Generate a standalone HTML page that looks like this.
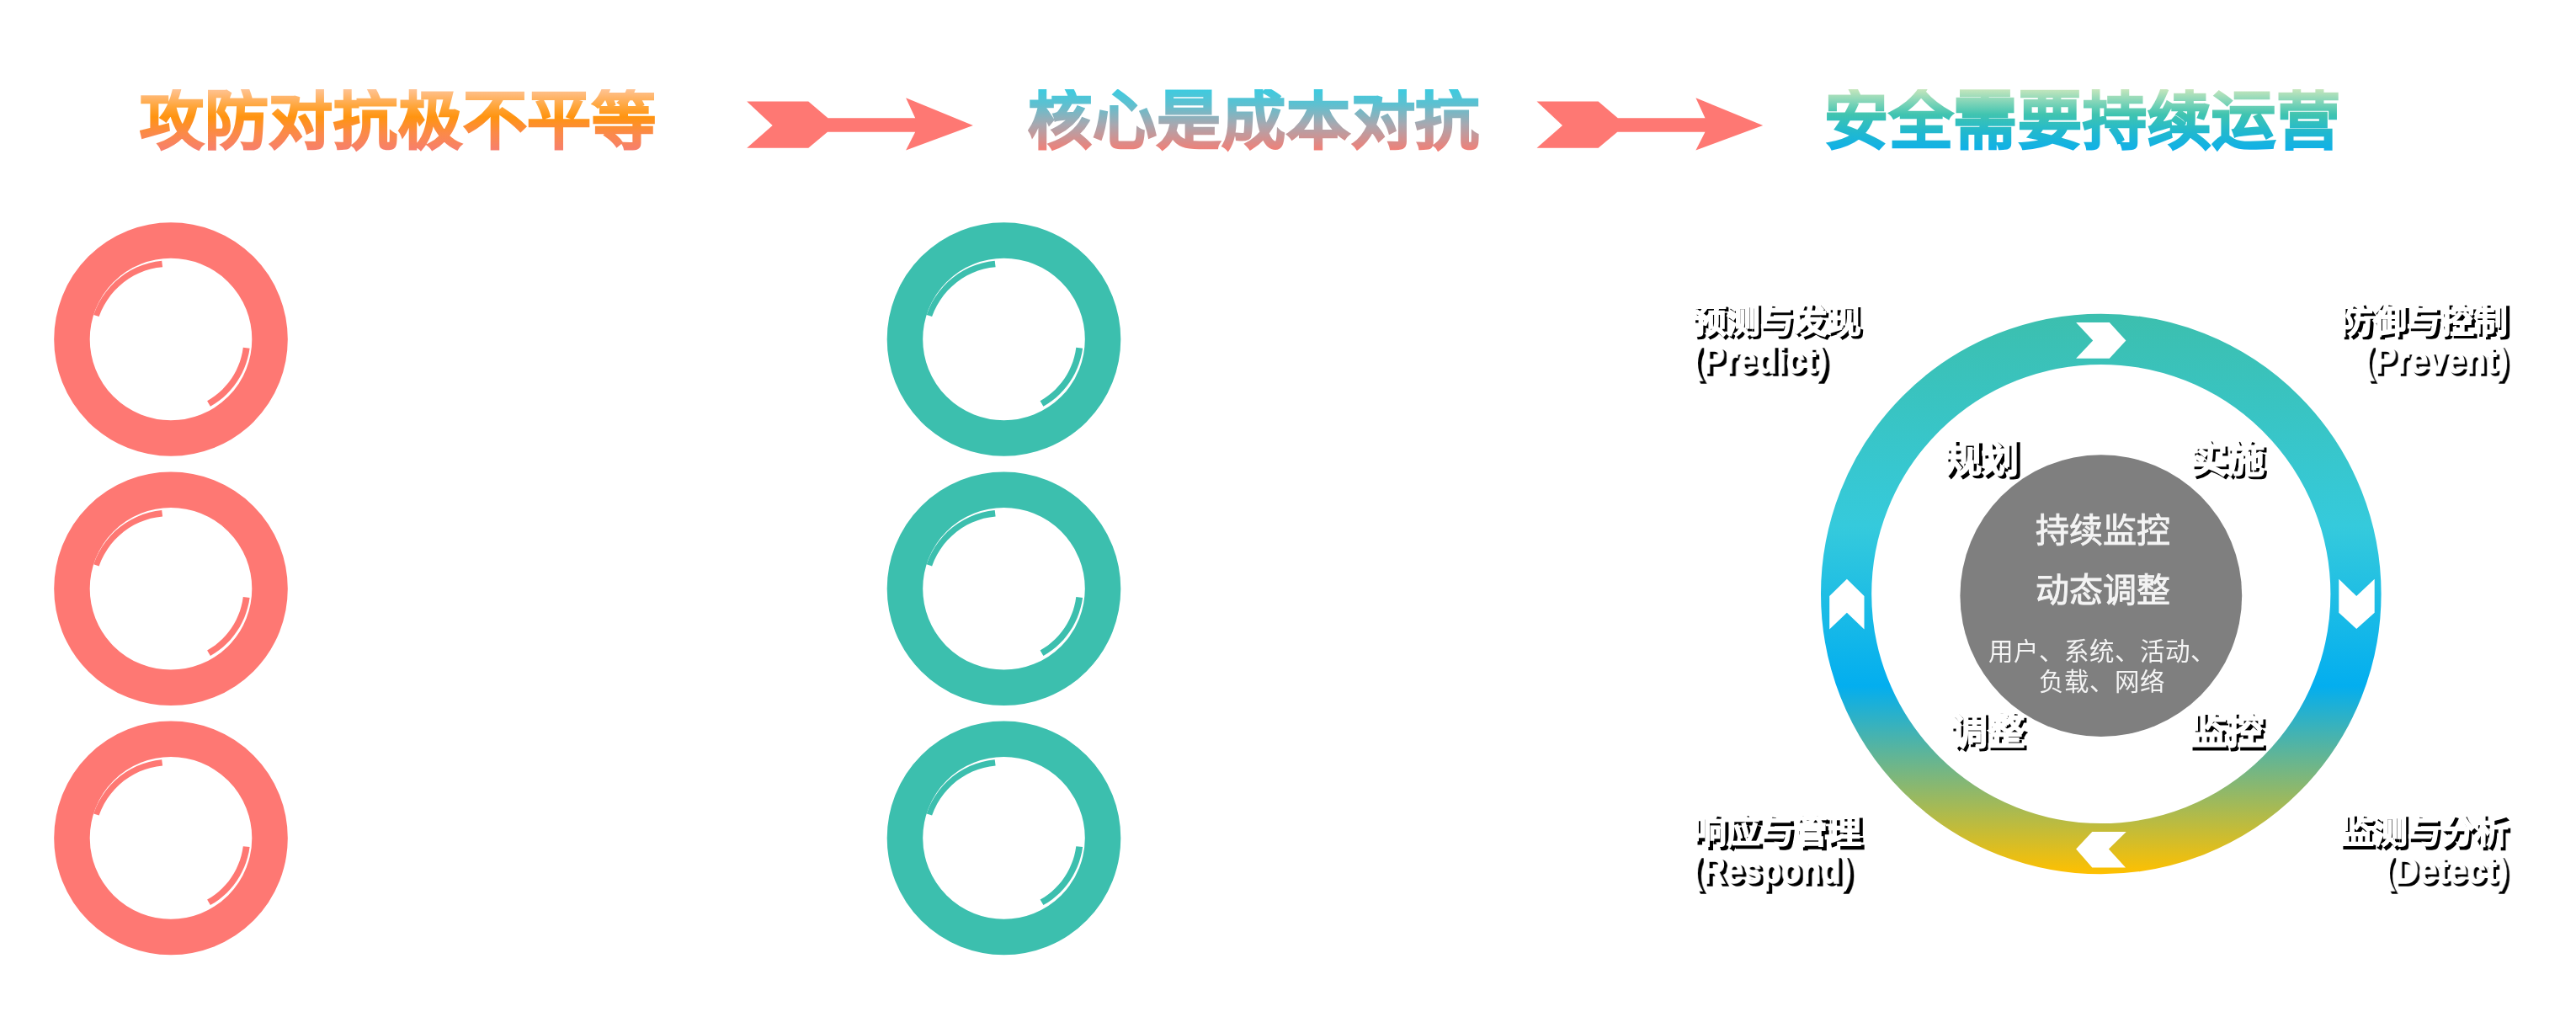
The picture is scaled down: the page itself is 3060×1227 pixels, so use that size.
<!DOCTYPE html>
<html lang="zh-CN">
<head>
<meta charset="utf-8">
<style>
html,body{margin:0;padding:0;background:#fff;}
body{width:3060px;height:1227px;position:relative;overflow:hidden;font-family:"Liberation Sans",sans-serif;}
svg.bg{position:absolute;left:0;top:0;}
.h{position:absolute;top:105.5px;height:76px;font-size:76px;line-height:76px;font-weight:bold;white-space:nowrap;-webkit-text-stroke:2px transparent;letter-spacing:0.7px;
  -webkit-background-clip:text;background-clip:text;color:transparent;}
.h1{left:166px;background-image:linear-gradient(180deg,#ffc394 0px,#ffa63c 20px,#ff9410 33px,#fb8a48 52px,#f77f6c 72px);}
.h2{left:1221px;background-image:linear-gradient(180deg,#3ccbe0 0px,#5ec0d0 18px,#a8a8b0 42px,#f08078 72px);}
.h3{left:2167px;background-image:linear-gradient(180deg,#c6e6bc 0px,#7ed4b8 16px,#40c4b0 30px,#20b8d0 52px,#10b0e8 72px);}
.t{will-change:transform;position:absolute;white-space:nowrap;font-weight:bold;color:#fff;-webkit-text-stroke:1.5px #fff;}
.s{will-change:transform;position:absolute;white-space:nowrap;font-weight:bold;color:#000;-webkit-text-stroke:1.6px #000;}
.c{will-change:transform;position:absolute;white-space:nowrap;color:#f4f4f4;text-align:center;}
</style>
</head>
<body>
<svg class="bg" width="3060" height="1227" viewBox="0 0 3060 1227">
  <defs>
    <linearGradient id="rg" gradientUnits="userSpaceOnUse" x1="0" y1="372" x2="0" y2="1038">
      <stop offset="0" stop-color="#3cbfae"/>
      <stop offset="0.38" stop-color="#35cadc"/>
      <stop offset="0.665" stop-color="#03aeef"/>
      <stop offset="1" stop-color="#ffc000"/>
    </linearGradient>
    <g id="ring">
      <circle cx="0" cy="0" r="117.55" fill="none" stroke-width="42.5"/>
      <path d="M-91.8 -29.0 L-89.0 -36.3 L-85.6 -43.4 L-81.5 -50.2 L-77.0 -56.6 L-72.0 -62.6 L-66.5 -68.2 L-60.5 -73.3 L-54.2 -77.9 L-47.5 -81.9 L-40.6 -85.4 L-33.4 -88.2 L-26.0 -90.5 L-18.4 -92.2 L-10.8 -93.2 L-9.9 -85.8 L-17.0 -84.9 L-24.0 -83.5 L-30.8 -81.4 L-37.5 -78.8 L-43.9 -75.7 L-50.1 -72.0 L-56.0 -67.8 L-61.5 -63.1 L-66.7 -58.0 L-71.4 -52.5 L-75.6 -46.6 L-79.4 -40.3 L-82.7 -33.7 L-85.4 -26.9Z" stroke="none"/>
      <path d="M93.6 10.7 L92.6 16.8 L91.1 22.8 L89.3 28.8 L87.1 34.6 L84.5 40.2 L81.6 45.6 L78.3 50.8 L74.7 55.8 L70.7 60.6 L66.5 65.0 L62.0 69.2 L57.2 73.0 L52.2 76.5 L46.9 79.7 L43.1 73.2 L47.9 70.3 L52.5 67.1 L56.9 63.5 L61.1 59.7 L64.9 55.6 L68.6 51.3 L71.9 46.7 L74.9 41.9 L77.6 36.9 L79.9 31.7 L82.0 26.4 L83.6 21.0 L84.9 15.4 L85.8 9.8Z" stroke="none"/>
    </g>
  </defs>
  <!-- arrows -->
  <polygon fill="#fe7873" points="887.2,120.4 960.3,120.4 983.5,140.2 1087.2,140.2 1076.1,116.3 1155.9,148.9 1076.1,178.6 1087.2,156.7 983,156.7 960.3,175.7 887.2,175.7 917.7,148.9"/>
  <g transform="translate(938.3,0)">
    <polygon fill="#fe7873" points="887.2,120.4 960.3,120.4 983.5,140.2 1087.2,140.2 1076.1,116.3 1155.9,148.9 1076.1,178.6 1087.2,156.7 983,156.7 960.3,175.7 887.2,175.7 917.7,148.9"/>
  </g>
  <!-- red rings -->
  <g stroke="#fe7873" fill="#fe7873">
    <use href="#ring" transform="translate(203,403)"/>
    <use href="#ring" transform="translate(203,699.3)"/>
    <use href="#ring" transform="translate(203,995.4)"/>
  </g>
  <!-- teal rings -->
  <g stroke="#3cbfae" fill="#3cbfae">
    <use href="#ring" transform="translate(1192.5,403)"/>
    <use href="#ring" transform="translate(1192.5,699.3)"/>
    <use href="#ring" transform="translate(1192.5,995.4)"/>
  </g>
  <!-- big cycle ring -->
  <circle cx="2495.8" cy="705.5" r="302.7" fill="none" stroke="url(#rg)" stroke-width="60.2"/>
  <circle cx="2495.8" cy="707.6" r="167.4" fill="#7f7f7f"/>
  <g fill="#fff">
    <polygon points="2466.1,383.1 2505.8,383.1 2525.4,404.4 2505.8,425.8 2466.1,425.8 2486.2,404.4"/>
    <polygon points="2193.9,687.7 2214.5,708.1 2214.5,747.6 2193.9,727.8 2173.2,747.6 2173.2,708.1"/>
    <polygon points="2778.3,687.7 2799.2,708.1 2820.7,687.7 2820.7,727.8 2799.2,747 2778.3,727.8"/>
    <polygon points="2485.3,987.9 2525.8,987.9 2504.9,1008.4 2525,1030.6 2485.3,1030.6 2466.1,1008.4"/>
  </g>
</svg>

<div class="h h1">攻防对抗极不平等</div>
<div class="h h2">核心是成本对抗</div>
<div class="h h3">安全需要持续运营</div>

<!-- center texts -->
<div class="c" style="left:2347.5px;width:300px;top:610px;font-size:40px;line-height:40px;-webkit-text-stroke:0.9px #f4f4f4;">持续监控</div>
<div class="c" style="left:2347.5px;width:300px;top:681px;font-size:40px;line-height:40px;-webkit-text-stroke:0.9px #f4f4f4;">动态调整</div>
<div class="c" style="left:2347px;width:300px;top:755.8px;font-size:29.5px;line-height:36.4px;">用户、系统、活动、<br>负载、网络</div>

<!-- labels -->
<div class="s" style="left:2313.5px;top:527.0px;font-size:44.0px;line-height:44.0px;">规划</div>
<div class="t" style="left:2310.0px;top:523.5px;font-size:44.0px;line-height:44.0px;">规划</div>
<div class="s" style="left:2605.0px;top:527.0px;font-size:44.0px;line-height:44.0px;">实施</div>
<div class="t" style="left:2601.5px;top:523.5px;font-size:44.0px;line-height:44.0px;">实施</div>
<div class="s" style="left:2320.0px;top:850.0px;font-size:44.0px;line-height:44.0px;">调整</div>
<div class="t" style="left:2316.5px;top:846.5px;font-size:44.0px;line-height:44.0px;">调整</div>
<div class="s" style="left:2604.0px;top:850.5px;font-size:44.0px;line-height:44.0px;">监控</div>
<div class="t" style="left:2600.5px;top:847.0px;font-size:44.0px;line-height:44.0px;">监控</div>
<div class="s" style="left:2014.0px;top:365.2px;font-size:39.6px;line-height:39.6px;">预测与发现</div>
<div class="t" style="left:2010.5px;top:361.7px;font-size:39.6px;line-height:39.6px;">预测与发现</div>
<div class="s" style="right:77.5px;top:365.2px;font-size:39.6px;line-height:39.6px;">防御与控制</div>
<div class="t" style="right:81.0px;top:361.7px;font-size:39.6px;line-height:39.6px;">防御与控制</div>
<div class="s" style="left:2014.5px;top:971.5px;font-size:39.6px;line-height:39.6px;">响应与管理</div>
<div class="t" style="left:2011.0px;top:968.0px;font-size:39.6px;line-height:39.6px;">响应与管理</div>
<div class="s" style="right:77.0px;top:971.5px;font-size:39.6px;line-height:39.6px;">监测与分析</div>
<div class="t" style="right:80.5px;top:968.0px;font-size:39.6px;line-height:39.6px;">监测与分析</div>
<div class="s" style="left:2012.7px;top:409.0px;font-size:44.4px;line-height:44.4px;transform:scaleX(0.897);transform-origin:left top;">(Predict)</div>
<div class="t" style="left:2009.2px;top:405.5px;font-size:44.4px;line-height:44.4px;transform:scaleX(0.897);transform-origin:left top;">(Predict)</div>
<div class="s" style="right:77.5px;top:409.0px;font-size:44.4px;line-height:44.4px;transform:scaleX(0.897);transform-origin:right top;">(Prevent)</div>
<div class="t" style="right:81.0px;top:405.5px;font-size:44.4px;line-height:44.4px;transform:scaleX(0.897);transform-origin:right top;">(Prevent)</div>
<div class="s" style="left:2012.7px;top:1015.0px;font-size:44.4px;line-height:44.4px;transform:scaleX(0.868);transform-origin:left top;">(Respond)</div>
<div class="t" style="left:2009.2px;top:1011.5px;font-size:44.4px;line-height:44.4px;transform:scaleX(0.868);transform-origin:left top;">(Respond)</div>
<div class="s" style="right:77.5px;top:1015.0px;font-size:44.4px;line-height:44.4px;transform:scaleX(0.897);transform-origin:right top;">(Detect)</div>
<div class="t" style="right:81.0px;top:1011.5px;font-size:44.4px;line-height:44.4px;transform:scaleX(0.897);transform-origin:right top;">(Detect)</div>
</body>
</html>
